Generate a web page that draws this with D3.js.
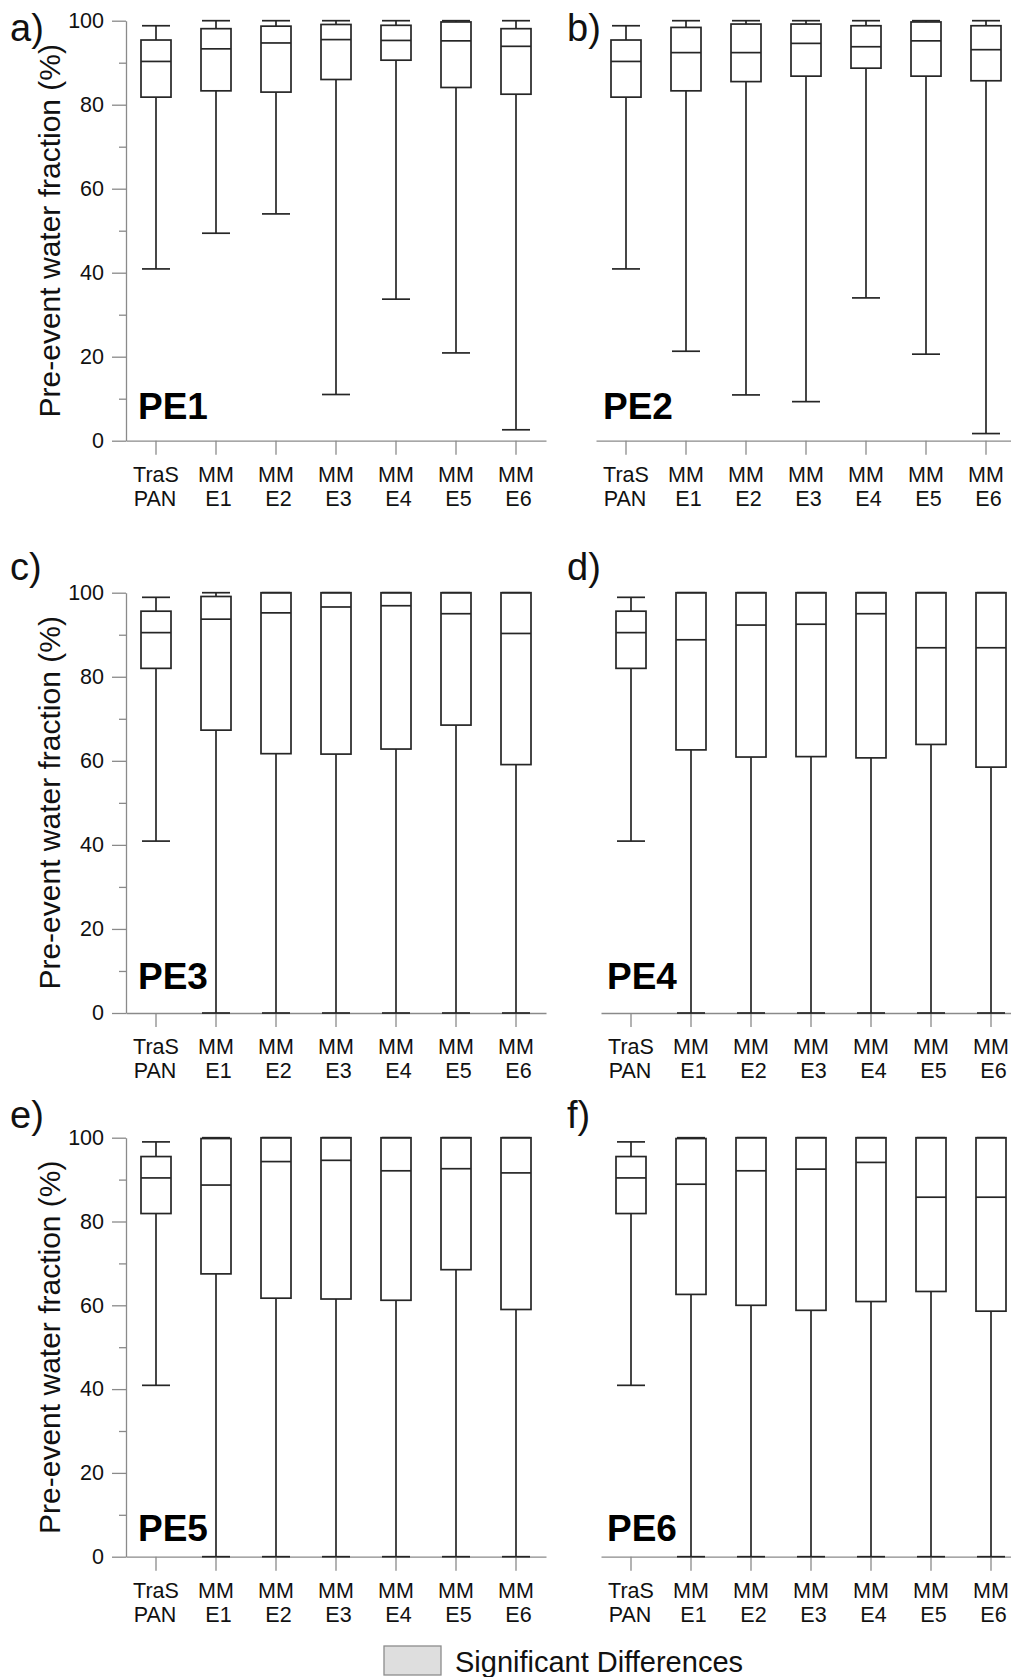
<!DOCTYPE html>
<html>
<head>
<meta charset="utf-8">
<script src="https://cdn.jsdelivr.net/npm/d3@7"></script>
<style>
  body { margin: 0; background: #fff; }
  svg { display: block; font-family: "Liberation Sans", Arial, sans-serif; }
</style>
</head>
<body>
<div id="chart"></div>
<script>
// category labels (two lines each)
const catTop = ["TraS", "MM", "MM", "MM", "MM", "MM", "MM"];
const catBottom = ["PAN", "E1", "E2", "E3", "E4", "E5", "E6"];

const yTicks = [0, 20, 40, 60, 80, 100];
const yMinorTicks = [10, 30, 50, 70, 90];

const panelLetters = ["a)", "b)", "c)", "d)", "e)", "f)"];
const panelNames = ["PE1", "PE2", "PE3", "PE4", "PE5", "PE6"];

// each row: [lower whisker, Q1, median, Q3, upper whisker] (%)
const pe1 = [
  [40.9, 81.8, 90.3, 95.4, 98.8],
  [49.4, 83.3, 93.3, 98.1, 100],
  [54.0, 83.0, 94.7, 98.7, 100],
  [11.0, 86.0, 95.5, 99.1, 100],
  [33.7, 90.6, 95.3, 98.9, 100],
  [20.9, 84.1, 95.2, 99.7, 100],
  [2.6, 82.5, 93.9, 98.1, 100]
];
const pe2 = [
  [40.9, 81.8, 90.3, 95.4, 98.8],
  [21.3, 83.3, 92.4, 98.4, 100],
  [10.9, 85.5, 92.4, 99.2, 100],
  [9.3, 86.8, 94.6, 99.2, 100],
  [34.0, 88.7, 93.8, 98.8, 100],
  [20.6, 86.8, 95.2, 99.7, 100],
  [1.7, 85.7, 93.1, 98.8, 100]
];
const pe3 = [
  [40.9, 82.0, 90.5, 95.6, 98.9],
  [0, 67.3, 93.7, 99.1, 100],
  [0, 61.7, 95.2, 100, 100],
  [0, 61.6, 96.6, 100, 100],
  [0, 62.8, 96.9, 100, 100],
  [0, 68.5, 95.0, 100, 100],
  [0, 59.1, 90.3, 100, 100]
];
const pe4 = [
  [40.9, 82.0, 90.5, 95.6, 98.9],
  [0, 62.6, 88.8, 100, 100],
  [0, 60.9, 92.3, 100, 100],
  [0, 61.0, 92.5, 100, 100],
  [0, 60.7, 95.0, 100, 100],
  [0, 63.9, 86.9, 100, 100],
  [0, 58.5, 86.9, 100, 100]
];
const pe5 = [
  [40.9, 81.9, 90.4, 95.5, 99.0],
  [0, 67.5, 88.7, 99.8, 100],
  [0, 61.7, 94.3, 100, 100],
  [0, 61.5, 94.6, 100, 100],
  [0, 61.2, 92.1, 100, 100],
  [0, 68.5, 92.6, 100, 100],
  [0, 59.0, 91.6, 100, 100]
];
const pe6 = [
  [40.9, 81.9, 90.4, 95.5, 99.0],
  [0, 62.6, 88.9, 99.8, 100],
  [0, 60.0, 92.1, 100, 100],
  [0, 58.8, 92.5, 100, 100],
  [0, 60.9, 94.1, 100, 100],
  [0, 63.3, 85.8, 100, 100],
  [0, 58.6, 85.8, 100, 100]
];

const panelData = [pe1, pe2, pe3, pe4, pe5, pe6];

// layout
const rowTops = [20.7, 592.7, 1137.7];
const rowHeights = [420, 420.3, 419];
const letterY = [41, 580, 1128];
const nameY = [419, 989, 1541];
const bandLeft = [126, 596, 126, 601, 126, 601];
const nameX = [138, 603, 138, 607, 138, 607];
const letterX = [10, 567];
const plotW = 420;

const axisColor = "#8a8a8a";
const boxColor = "#262626";

const svg = d3.select("#chart").append("svg")
  .attr("width", 1011)
  .attr("height", 1677);

panelData.forEach(function (data, i) {
  const row = Math.floor(i / 2), col = i % 2;
  const top = rowTops[row];
  const left = bandLeft[i];

  const x = d3.scaleBand()
    .domain(d3.range(catTop.length))
    .range([left, left + plotW]);
  const y = d3.scaleLinear()
    .domain([0, 100])
    .range([top + rowHeights[row], top]);

  const g = svg.append("g");

  // x axis
  const xAxis = g.append("g")
    .attr("transform", "translate(0," + y(0) + ")")
    .call(d3.axisBottom(x).tickSize(14).tickSizeOuter(0).tickFormat(""));
  xAxis.selectAll("text").remove();
  const lbl = xAxis.selectAll(".tick").append("text")
    .attr("fill", "#111")
    .attr("text-anchor", "middle")
    .style("font-size", "21.5px");
  lbl.append("tspan").attr("x", 0).attr("y", 41).text(function (d) { return catTop[d]; });
  lbl.append("tspan").attr("x", 0).attr("dx", function (d) { return d === 0 ? -1 : 2.5; })
    .attr("y", 65).text(function (d) { return catBottom[d]; });

  if (col === 0) {
    // the 0 tick of the y axis also extends the x axis line to the left
    const yAxis = g.append("g")
      .attr("transform", "translate(" + left + ",0)")
      .call(d3.axisLeft(y).tickValues(yTicks).tickSize(14).tickPadding(8).tickSizeOuter(0));
    yAxis.selectAll("text")
      .attr("fill", "#111")
      .style("font-size", "21.5px");
    g.append("g")
      .attr("transform", "translate(" + left + ",0)")
      .call(d3.axisLeft(y).tickValues(yMinorTicks).tickSize(7).tickFormat("").tickSizeOuter(0))
      .select(".domain").remove();

    g.append("text")
      .attr("transform", "translate(60," + (top + rowHeights[row] / 2) + ") rotate(-90)")
      .attr("text-anchor", "middle")
      .attr("fill", "#111")
      .style("font-size", "30px")
      .text("Pre-event water fraction (%)");
  }

  g.selectAll(".domain, .tick line")
    .attr("stroke", axisColor)
    .attr("stroke-width", 1.3);

  // boxes
  const boxW = 30, capW = 28;
  const cx = function (j) { return x(j) + x.bandwidth() / 2; };
  const boxes = g.append("g").selectAll("g")
    .data(data)
    .join("g")
    .attr("stroke", boxColor)
    .attr("stroke-width", 1.7)
    .attr("fill", "none");

  boxes.append("line")
    .attr("x1", function (d, j) { return cx(j); })
    .attr("x2", function (d, j) { return cx(j); })
    .attr("y1", function (d) { return y(d[0]); })
    .attr("y2", function (d) { return y(d[4]); });
  boxes.append("rect")
    .attr("x", function (d, j) { return cx(j) - boxW / 2; })
    .attr("width", boxW)
    .attr("y", function (d) { return y(d[3]); })
    .attr("height", function (d) { return y(d[1]) - y(d[3]); })
    .attr("fill", "#fff");
  boxes.append("line")
    .attr("x1", function (d, j) { return cx(j) - boxW / 2; })
    .attr("x2", function (d, j) { return cx(j) + boxW / 2; })
    .attr("y1", function (d) { return y(d[2]); })
    .attr("y2", function (d) { return y(d[2]); });
  [0, 4].forEach(function (k) {
    boxes.append("line")
      .attr("x1", function (d, j) { return cx(j) - capW / 2; })
      .attr("x2", function (d, j) { return cx(j) + capW / 2; })
      .attr("y1", function (d) { return y(d[k]); })
      .attr("y2", function (d) { return y(d[k]); });
  });

  // panel letter and name
  svg.append("text")
    .attr("x", letterX[col])
    .attr("y", letterY[row])
    .attr("fill", "#111")
    .style("font-size", "38px")
    .text(panelLetters[i]);
  svg.append("text")
    .attr("x", nameX[i])
    .attr("y", nameY[row])
    .attr("fill", "#000")
    .style("font-size", "37px")
    .style("font-weight", "bold")
    .text(panelNames[i]);
});

// legend
svg.append("rect")
  .attr("x", 384).attr("y", 1646)
  .attr("width", 57).attr("height", 29)
  .attr("fill", "#dedede")
  .attr("stroke", "#8c8c8c")
  .attr("stroke-width", 1.3);
svg.append("text")
  .attr("x", 455).attr("y", 1672)
  .attr("fill", "#111")
  .style("font-size", "29px")
  .text("Significant Differences");
</script>
</body>
</html>
